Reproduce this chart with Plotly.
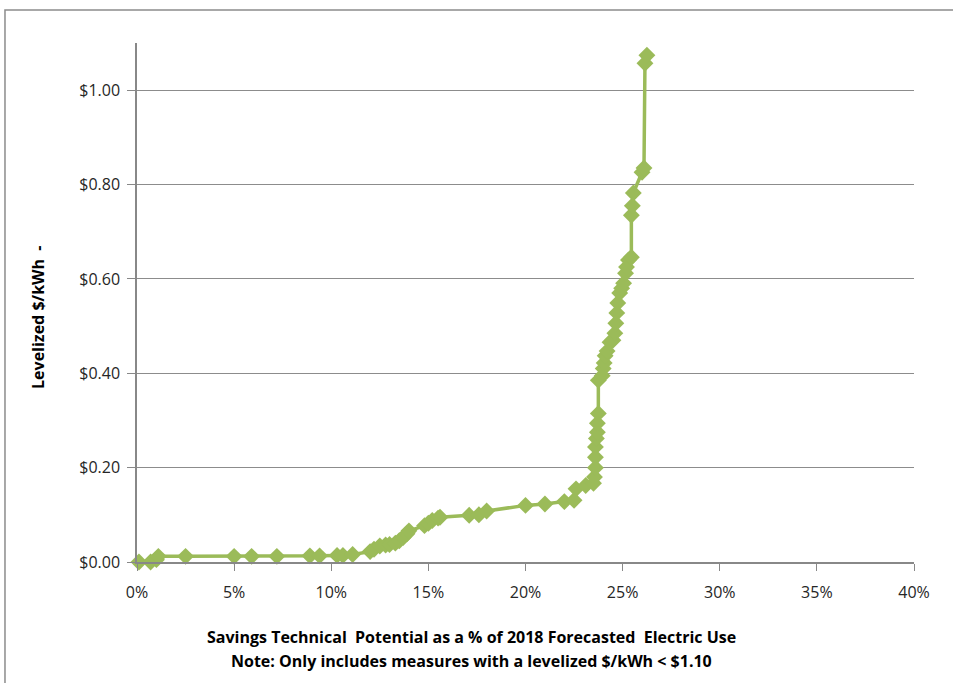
import plotly.graph_objects as go

# Savings technical potential (% of 2018 forecasted electric use), cumulative
savings_pct = [0.1, 0.7, 1.0, 1.1, 2.5, 5.0, 5.9, 7.2, 8.9, 9.4, 10.3, 10.6, 11.1,
               12.0, 12.2, 12.5, 12.8, 13.0, 13.3, 13.5, 13.7, 13.9, 14.0, 14.8, 15.0,
               15.2, 15.5, 15.6, 17.1, 17.6, 18.0, 20.0, 21.0, 22.0, 22.5, 22.6, 23.1,
               23.5, 23.55, 23.6, 23.6, 23.6, 23.65, 23.7, 23.7, 23.75, 23.75, 23.95, 24.0,
               24.05, 24.1, 24.2, 24.35, 24.5, 24.6, 24.65, 24.7, 24.75, 24.85, 24.95, 25.05,
               25.15, 25.2, 25.3, 25.45, 25.45, 25.5, 25.55, 26.0, 26.1, 26.15, 26.25]
# Levelized cost, $/kWh
levelized_cost = [0.000, 0.000, 0.005, 0.012, 0.012, 0.012, 0.012, 0.012, 0.013, 0.013, 0.014, 0.014, 0.016,
                  0.022, 0.027, 0.034, 0.036, 0.037, 0.040, 0.045, 0.052, 0.060, 0.066, 0.077, 0.082,
                  0.088, 0.093, 0.095, 0.099, 0.100, 0.108, 0.120, 0.123, 0.128, 0.131, 0.155, 0.162,
                  0.167, 0.180, 0.200, 0.222, 0.244, 0.262, 0.275, 0.294, 0.315, 0.385, 0.395, 0.410,
                  0.422, 0.437, 0.447, 0.466, 0.470, 0.485, 0.506, 0.528, 0.549, 0.570, 0.580, 0.591,
                  0.612, 0.625, 0.640, 0.646, 0.735, 0.755, 0.782, 0.826, 0.835, 1.057, 1.074]

x_vals = [v / 100 for v in savings_pct]
x_ticks = [0, 0.05, 0.10, 0.15, 0.20, 0.25, 0.30, 0.35, 0.40]
y_ticks = [0, 0.2, 0.4, 0.6, 0.8, 1.0]

green = "#9BBB59"
axis_gray = "#888888"
font_family = "'Open Sans', Lato, sans-serif"

fig = go.Figure()
fig.add_trace(go.Scatter(
    x=x_vals, y=levelized_cost, mode="lines+markers",
    line=dict(color=green, width=3.5),
    marker=dict(symbol="diamond", size=13, color=green),
    showlegend=False, cliponaxis=False,
))

fig.update_layout(
    width=953, height=683,
    margin=dict(l=137, r=39, t=43, b=121),
    paper_bgcolor="white", plot_bgcolor="white",
    font=dict(family=font_family, size=16, color="#333333"),
    xaxis=dict(range=[0, 0.40], tickvals=x_ticks, tickformat=".0%",
               showgrid=False, zeroline=False, showline=True, linecolor=axis_gray,
               linewidth=1.5, ticks="outside", ticklen=7, tickcolor=axis_gray,
               ticklabelstandoff=8,
               tickfont=dict(size=16, color="#262626")),
    yaxis=dict(range=[0, 1.1], tickvals=y_ticks, tickformat="$.2f",
               showgrid=True, gridcolor="#8c8c8c", gridwidth=1, zeroline=False,
               showline=True, linecolor=axis_gray, linewidth=1.5,
               ticks="outside", ticklen=8, tickcolor=axis_gray,
               ticklabelstandoff=4,
               tickfont=dict(size=16, color="#262626")),
    annotations=[
        dict(text="<b>Savings Technical  Potential as a % of 2018 Forecasted  Electric Use</b>",
             xref="paper", yref="paper", x=0.431, y=-0.145, xanchor="center", yanchor="middle",
             showarrow=False, font=dict(size=16, color="black", family=font_family)),
        dict(text="<b>Note: Only includes measures with a levelized $/kWh < $1.10</b>",
             xref="paper", yref="paper", x=0.431, y=-0.191, xanchor="center", yanchor="middle",
             showarrow=False, font=dict(size=16, color="black", family=font_family)),
        dict(text="<b>Levelized $/kWh  -</b>",
             xref="paper", yref="paper", x=-0.1275, y=0.472, xanchor="center", yanchor="middle",
             textangle=-90, showarrow=False, font=dict(size=16, color="black", family=font_family)),
    ],
    shapes=[
        dict(type="rect", xref="paper", yref="paper", x0=-0.1699, x1=1.2, y0=-0.4, y1=1.0636,
             line=dict(color="#8c8c8c", width=1.5), fillcolor="rgba(0,0,0,0)", layer="below"),
    ],
)

fig.write_html("out.html", config={"displayModeBar": False},
               post_script="document.body.style.margin='0';document.body.style.overflow='hidden';")
